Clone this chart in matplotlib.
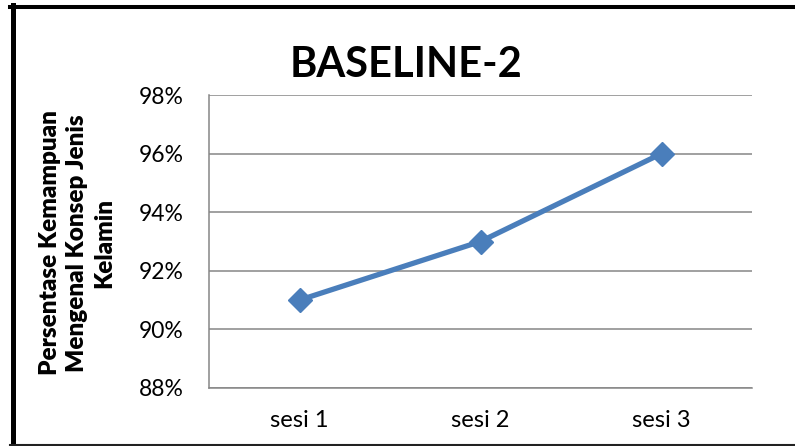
import matplotlib.pyplot as plt
from matplotlib.lines import Line2D
from matplotlib.ticker import FuncFormatter

sessions = ['sesi 1', 'sesi 2', 'sesi 3']
percent = [91, 93, 96]
y_ticks = [88, 90, 92, 94, 96, 98]

plt.rcParams['font.family'] = ['Lato', 'DejaVu Sans']

fig = plt.figure(figsize=(7.95, 4.46), dpi=100)
ax = fig.add_axes([209 / 795, 1 - 388 / 446, 543 / 795, 293 / 446])

x = range(len(sessions))
ax.plot(x, percent, color='#4A7EBB', lw=3.8, marker='D', markersize=12.5,
        solid_capstyle='round', zorder=3)

ax.set_xlim(-0.5, len(sessions) - 0.5)
ax.set_ylim(88, 98)
ax.set_xticks(list(x))
ax.set_xticklabels(sessions)
ax.set_yticks(y_ticks)
ax.yaxis.set_major_formatter(FuncFormatter(lambda v, p: f'{v:.0f}%'))
ax.grid(axis='y', color='#868686', lw=1.1)
ax.set_axisbelow(True)
for s in ['top', 'right']:
    ax.spines[s].set_visible(False)
for s in ['left', 'bottom']:
    ax.spines[s].set_color('#868686')
    ax.spines[s].set_linewidth(1.1)
ax.tick_params(axis='y', length=0, pad=18, labelsize=16.5)
ax.tick_params(axis='x', length=0, pad=16, labelsize=17)

fig.text(406 / 795, 1 - 77 / 446, 'BASELINE-2', ha='center', va='baseline',
         fontsize=30, fontweight='bold')
fig.text(77 / 795, 1 - 243 / 446,
         'Persentase Kemampuan\nMengenal Konsep Jenis\nKelamin',
         ha='center', va='center', rotation=90, fontsize=17.5,
         fontweight='heavy', linespacing=1.3)

# outer border like the cropped screenshot
fig.add_artist(Line2D([12.5 / 795, 12.5 / 795], [0, 1 - 5 / 446],
                      transform=fig.transFigure, color='black', lw=3.6))
fig.add_artist(Line2D([10 / 795, 1], [1 - 7 / 446, 1 - 7 / 446],
                      transform=fig.transFigure, color='black', lw=2.9))
fig.add_artist(Line2D([10 / 795, 1], [0.002, 0.002],
                      transform=fig.transFigure, color='#222222', lw=1.5))

fig.savefig('out.png', dpi=100)
